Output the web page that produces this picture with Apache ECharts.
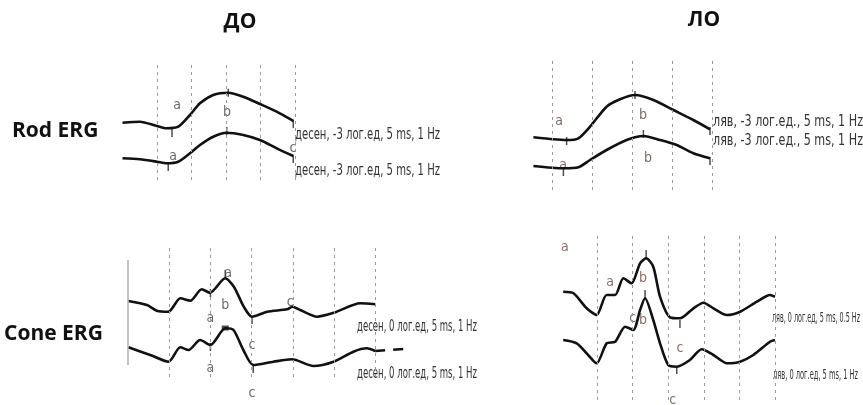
<!DOCTYPE html>
<html>
<head>
<meta charset="utf-8">
<script src="https://cdn.jsdelivr.net/npm/echarts@6/dist/echarts.min.js"></script>
<style>
  html, body { margin: 0; background: #fff; }
  #chart { width: 863px; height: 405px; }
</style>
</head>
<body>
<div id="chart"></div>
<script>
// ERG traces: [time ms, amplitude a.u.]
const rodDoTop = [[-20, 57.3], [-10, 58.3], [0, 54], [5.6, 51.7], [12.3, 53.3], [19.1, 65], [24.9, 76.7], [32.6, 85], [41.3, 87.3], [50, 83.3], [59.7, 76], [69.4, 68.3], [79, 59]]
const rodDoBottom = [[-20, 21.7], [-10, 20.7], [0, 18.3], [5.6, 16.7], [12.3, 18.3], [19.1, 26.7], [24.9, 35], [32.6, 43.3], [40.4, 47.3], [50, 45], [59.7, 40], [69.4, 31.7], [79, 24]]
const rodLoTop = [[-9.3, 52.7], [0.7, 50.7], [7.3, 50], [13.2, 51.7], [19, 63.3], [27.3, 83.3], [34, 90.7], [41.5, 95], [50.7, 90], [60.7, 80], [70.7, 70], [79, 60.7]]
const rodLoBottom = [[-9.3, 24], [5.7, 21.7], [13.2, 22.7], [19, 30], [27.3, 40], [37.3, 50], [45.7, 54], [54, 50], [62.3, 45], [70.7, 36.7], [79, 31.7]]
const coneDoTop = [[-9.9, 76], [-5.4, 72], [-3, 66.3], [-0.2, 65.3], [2.7, 78.7], [5.1, 76.3], [7.9, 87.7], [9.9, 84.3], [13.6, 98.7], [15.7, 90.3], [18.1, 70.3], [20.1, 60.3], [23.8, 65.3], [28.6, 67.7], [29.9, 70.3], [31.8, 67], [35.9, 60.3], [40, 64.3], [46.4, 73.7], [50, 72.7]]
const coneDoBottom = [[-9.9, 29.7], [-4.6, 22], [-0.2, 15.3], [2.7, 29.7], [4.7, 27], [7.5, 37], [10, 32], [13.6, 48.7], [15.6, 47], [18, 27], [20.4, 12], [25.3, 15.3], [29.8, 17.7], [35, 11], [39.9, 15.3], [44.7, 25.3], [48, 28.7], [50, 26]]
const coneDoTail = [[50, 26], [56.8, 28]]
const coneLoTop = [[-9.5, 108.3], [-6.6, 106.7], [-2.9, 91.7], [-0.1, 85], [2.7, 105], [5.1, 105], [7.4, 121.7], [9.7, 116.7], [12.1, 136.7], [13.8, 141.7], [15.8, 133.3], [17.7, 103.3], [20.5, 82.7], [23.3, 81.7], [27.1, 91.7], [29.9, 97.3], [32.7, 91.7], [36.5, 85], [40.2, 88.3], [44.9, 98.3], [48.6, 105], [50, 103.3]]
const coneLoBottom = [[-9.5, 60], [-5.7, 56.7], [-2.9, 46.7], [-0.1, 36.7], [2.7, 56.7], [5.1, 58.3], [7.9, 73.3], [10.2, 70], [12.1, 90], [13.5, 101.7], [15.8, 80], [17.7, 56.7], [20, 35], [22.4, 33.3], [26.1, 40], [29.4, 50.7], [32.7, 45], [36.5, 36.7], [40.2, 38.3], [43.9, 45], [48.6, 58.3], [50, 60]]

// time divisions (dashed verticals)
const rodDivisions = [0, 20, 40, 60, 80]
const coneDivisions = [0, 10, 20, 30, 40, 50]

// wave letters: [time ms, amplitude, letter]
const rodDoLetters = [[11.6, 75, 'a'], [40.6, 68, 'b'], [9.3, 24, 'a'], [78.8, 32, 'c']]
const rodLoLetters = [[3.5, 69, 'a'], [45.5, 75, 'b'], [48, 32, 'b'], [5.5, 25, 'a']]
const coneDoLetters = [[14.3, 104, 'a'], [13.6, 72, 'b'], [10, 59, 'a'], [29.4, 75, 'c'], [20.1, 32, 'c'], [10, 9, 'a'], [20.1, -16, 'c']]
const coneLoLetters = [[-9, 153, 'a'], [3.7, 118, 'a'], [12.9, 122, 'b'], [12.9, 80, 'b'], [10, 82, 'c'], [23.3, 52, 'c'], [21.3, 0, 'c']]

// cursor marks on the traces: [time ms, amplitude]
const rodDoMarks = [[8.7, 47], [41.3, 87.3], [79, 56], [6.5, 13], [40.4, 49], [79, 21]]
const rodLoMarks = [[7.3, 49], [41.5, 95], [79, 59], [5.7, 18], [45.7, 56], [79, 29]]
const coneDoMarks = [[13.6, 103], [10, 84], [10, 30], [20.4, 8], [20.1, 57]]
const coneDoPeak = [[13.6, 49]]
const coneLoMarks = [[13.8, 146], [23.3, 76], [13.5, 106], [22.4, 30]]

const headings = ['ДО', 'ЛО']
const rowNames = ['Rod ERG', 'Cone ERG']
const rodDoCaption = 'десен, -3 лог.ед, 5 ms, 1 Hz'
const rodLoCaption = 'ляв, -3 лог.ед., 5 ms, 1 Hz'
const coneDoCaption = 'десен, 0 лог.ед, 5 ms, 1 Hz'
const coneLoCaptions = ['ляв, 0 лог.ед, 5 ms, 0.5 Hz', 'ляв, 0 лог.ед, 5 ms, 1 Hz']

const chart = echarts.init(document.getElementById('chart'))

const narrow = '"Liberation Sans Narrow", "DejaVu Sans Condensed", "Liberation Sans", sans-serif'
const bold = '"Open Sans", sans-serif'

// squeeze caption text to the width it has in the figure
const measureCtx = document.createElement('canvas').getContext('2d')
const fitScale = (text, size, width) => {
  measureCtx.font = size + 'px ' + narrow
  return width / measureCtx.measureText(text).width
}

const caption = (text, x, y, size, width) => ({
  type: 'text',
  x: x,
  y: y - size * 0.6,
  scaleX: fitScale(text, size, width),
  silent: true,
  style: { text: text, fontSize: size, fontFamily: narrow, fill: '#333' }
})

const heading = (text, x, y, align) => ({
  type: 'text',
  x: x,
  y: y,
  silent: true,
  style: { text: text, fontSize: 21, fontWeight: 'bold', fontFamily: bold, fill: '#111', align: align, verticalAlign: 'middle' }
})

const grids = [
  { left: 122.5, top: 63, width: 172.5, height: 117 },
  { left: 532, top: 60, width: 180, height: 130 },
  { left: 128, top: 247, width: 288.4, height: 130 },
  { left: 561.4, top: 233, width: 213.6, height: 167 }
]
const xRanges = [[-20, 80], [-10, 80], [-10, 60], [-10, 50]]

const traceStyle = { color: '#111', width: 2.6 }

const trace = (idx, data, divisions) => {
  const s = {
    type: 'line',
    xAxisIndex: idx,
    yAxisIndex: idx,
    data: data,
    smooth: 0.25,
    showSymbol: false,
    silent: true,
    clip: false,
    lineStyle: traceStyle
  }
  if (divisions) {
    s.markLine = {
      silent: true,
      symbol: ['none', 'none'],
      label: { show: false },
      lineStyle: { type: [3, 4], color: '#9a9a9a', width: 1 },
      data: divisions.map(v => ({ xAxis: v }))
    }
  }
  return s
}

const letters = (idx, data, color) => ({
  type: 'scatter',
  xAxisIndex: idx,
  yAxisIndex: idx,
  silent: true,
  clip: false,
  symbolSize: 1,
  itemStyle: { color: 'rgba(0,0,0,0)' },
  label: {
    show: true,
    position: 'inside',
    formatter: '{b}',
    fontFamily: narrow,
    fontSize: 14,
    color: color
  },
  data: data.map(d => ({ name: d[2], value: [d[0], d[1]] }))
})

const marks = (idx, data, size) => ({
  type: 'scatter',
  xAxisIndex: idx,
  yAxisIndex: idx,
  silent: true,
  clip: false,
  symbol: 'rect',
  symbolSize: size || [1.5, 8],
  itemStyle: { color: '#222' },
  data: data
})

const option = {
  backgroundColor: '#fff',
  animation: false,
  grid: grids,
  xAxis: grids.map((g, i) => ({ type: 'value', gridIndex: i, min: xRanges[i][0], max: xRanges[i][1], show: false })),
  yAxis: grids.map((g, i) => ({ type: 'value', gridIndex: i, min: 0, max: g.height, show: false })),
  graphic: [
    heading(headings[0], 240, 22, 'center'),
    heading(headings[1], 704, 20, 'center'),
    heading(rowNames[0], 12, 131, 'left'),
    heading(rowNames[1], 4, 334, 'left'),
    caption(rodDoCaption, 295, 136, 16, 145),
    caption(rodDoCaption, 295, 172, 16, 145),
    caption(rodLoCaption, 713, 123, 16, 150),
    caption(rodLoCaption, 713, 142, 16, 150),
    caption(coneDoCaption, 357, 329, 15, 120),
    caption(coneDoCaption, 357, 376, 15, 120),
    caption(coneLoCaptions[0], 772, 320, 14, 88),
    caption(coneLoCaptions[1], 773, 377, 14, 85)
  ],
  series: [
    trace(0, rodDoTop, rodDivisions),
    trace(0, rodDoBottom),
    trace(1, rodLoTop, rodDivisions),
    trace(1, rodLoBottom),
    trace(2, coneDoTop, coneDivisions),
    trace(2, coneDoBottom),
    Object.assign(trace(2, coneDoTail), { lineStyle: { color: '#111', width: 2.6, type: [10, 8] } }),
    trace(3, coneLoTop, coneDivisions),
    trace(3, coneLoBottom),
    {
      type: 'line', xAxisIndex: 2, yAxisIndex: 2, data: [], silent: true,
      markLine: {
        silent: true, symbol: ['none', 'none'], label: { show: false },
        lineStyle: { type: 'solid', color: '#b0b0b0', width: 1.5 },
        data: [[{ coord: [-10, 12] }, { coord: [-10, 117] }]]
      }
    },
    letters(0, rodDoLetters, '#444'),
    letters(1, rodLoLetters, '#5a4540'),
    letters(2, coneDoLetters, '#444'),
    letters(3, coneLoLetters, '#6a4a40'),
    marks(0, rodDoMarks),
    marks(1, rodLoMarks),
    marks(2, coneDoMarks),
    marks(2, coneDoPeak, [7, 5]),
    marks(3, coneLoMarks)
  ]
}

chart.setOption(option)
</script>
</body>
</html>
